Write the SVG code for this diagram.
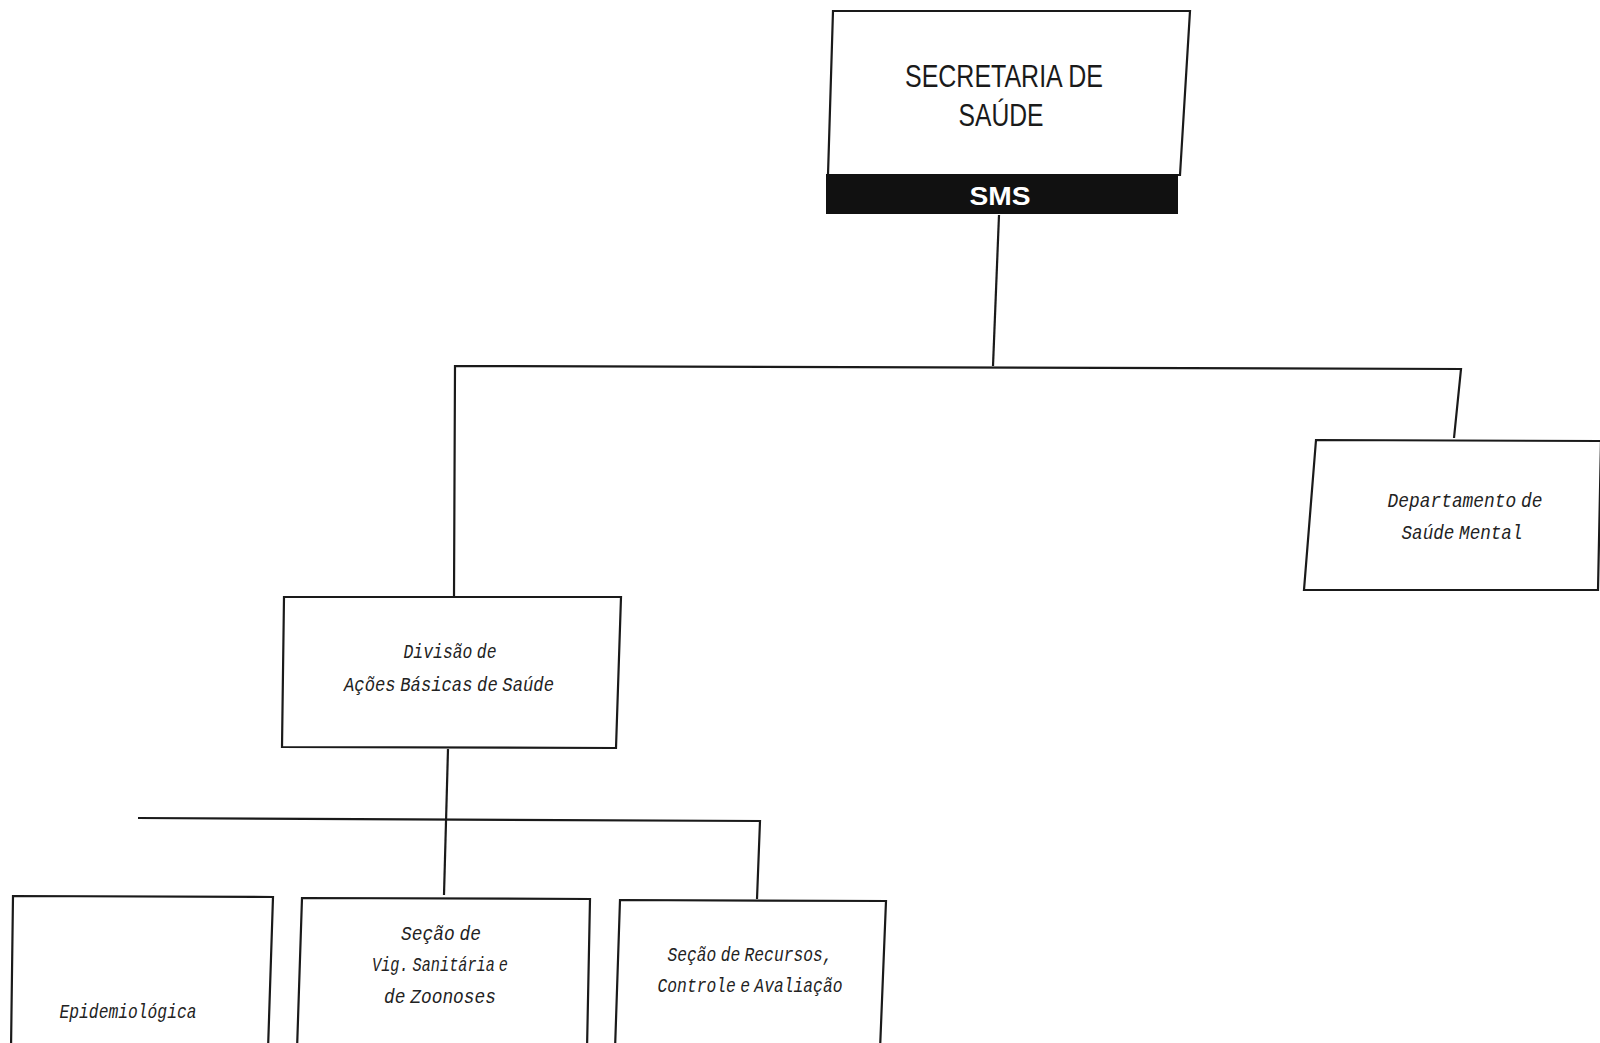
<svg xmlns="http://www.w3.org/2000/svg" width="1600" height="1043" viewBox="0 0 1600 1043">
<style>
.box{fill:#fff;stroke:#1a1a1a;stroke-width:2.2;stroke-linejoin:miter}
.ln{fill:none;stroke:#1a1a1a;stroke-width:2.2}
.t{font-family:"Liberation Mono","DejaVu Sans Mono",monospace;font-style:italic;font-size:21px;word-spacing:-7px;fill:#222;text-anchor:middle}
.h{font-family:"Liberation Sans",Arial,sans-serif;font-size:31px;fill:#1a1a1a;text-anchor:middle}
.s{font-family:"Liberation Sans",Arial,sans-serif;font-size:26px;font-weight:bold;fill:#fff;text-anchor:middle}
</style>
<rect width="1600" height="1043" fill="#fff"/>
<g id="connectors">
<polyline class="ln" points="999,215 993,366"/>
<polyline class="ln" points="454,597 455,366 1461,369 1454,438"/>
<polyline class="ln" points="448,749 444,895"/>
<polyline class="ln" points="138,818 760,821 757,899"/>
</g>
<g id="sms">
<polygon class="box" points="833,11 1190,11 1180,175 828,175"/>
<rect x="826" y="174" width="352" height="40" fill="#111"/>
<text class="h" x="1004" y="87" textLength="198" lengthAdjust="spacingAndGlyphs">SECRETARIA DE</text>
<text class="h" x="1001" y="126" textLength="85" lengthAdjust="spacingAndGlyphs">SAÚDE</text>
<text class="s" x="1000" y="205" textLength="61" lengthAdjust="spacingAndGlyphs">SMS</text>
</g>
<g id="saude-mental">
<polygon class="box" points="1316,440 1601,441 1598,590 1304,590"/>
<text class="t" x="1465" y="507" textLength="155" lengthAdjust="spacingAndGlyphs">Departamento de</text>
<text class="t" x="1462" y="539" textLength="121" lengthAdjust="spacingAndGlyphs">Saúde Mental</text>
</g>
<g id="divisao">
<polygon class="box" points="284,597 621,597 616,748 282,747"/>
<text class="t" x="450" y="658" textLength="93" lengthAdjust="spacingAndGlyphs">Divisão de</text>
<text class="t" x="449" y="691" textLength="210" lengthAdjust="spacingAndGlyphs">Ações Básicas de Saúde</text>
</g>
<g id="epidemiologica">
<polygon class="box" points="13,896 273,897 268,1050 11,1050"/>
<text class="t" x="128" y="1018" textLength="137" lengthAdjust="spacingAndGlyphs">Epidemiológica</text>
</g>
<g id="vigilancia">
<polygon class="box" points="302,898 590,899 587,1050 297,1050"/>
<text class="t" x="441" y="940" textLength="80" lengthAdjust="spacingAndGlyphs">Seção de</text>
<text class="t" x="440" y="971" textLength="136" lengthAdjust="spacingAndGlyphs">Vig. Sanitária e</text>
<text class="t" x="440" y="1003" textLength="112" lengthAdjust="spacingAndGlyphs">de Zoonoses</text>
</g>
<g id="recursos">
<polygon class="box" points="620,900 886,901 880,1050 615,1050"/>
<text class="t" x="750" y="961" textLength="165" lengthAdjust="spacingAndGlyphs">Seção de Recursos,</text>
<text class="t" x="750" y="992" textLength="185" lengthAdjust="spacingAndGlyphs">Controle e Avaliação</text>
</g>
</svg>
